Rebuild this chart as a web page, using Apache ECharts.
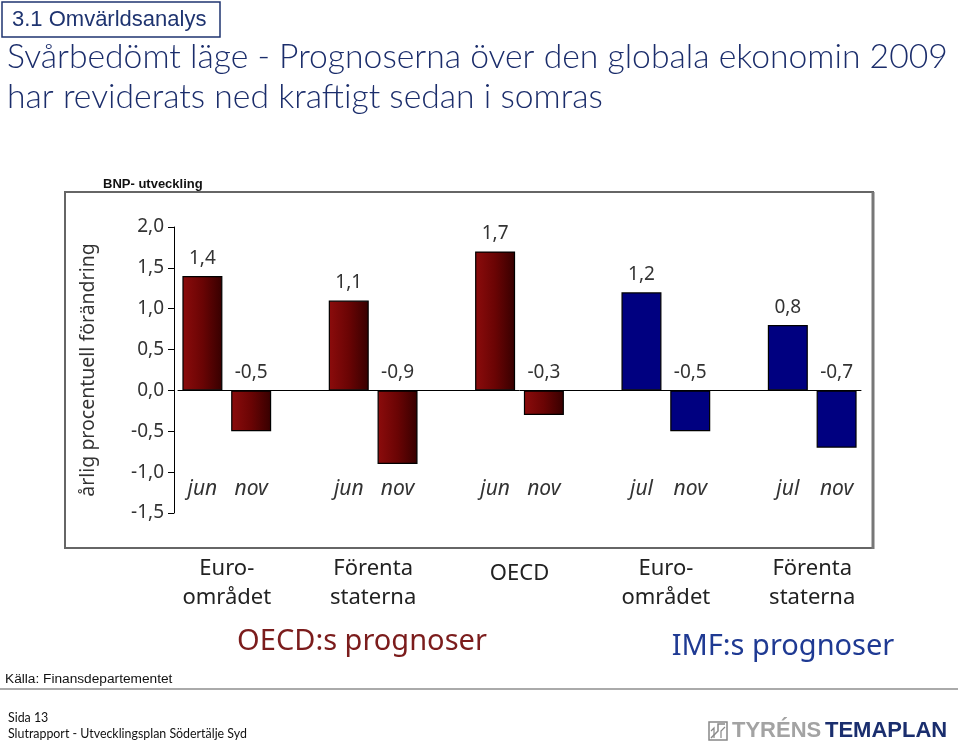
<!DOCTYPE html>
<html>
<head>
<meta charset="utf-8">
<script src="https://cdn.jsdelivr.net/npm/echarts@6/dist/echarts.min.js"></script>
<style>
html,body{margin:0;padding:0;background:#fff;}
#c{width:960px;height:742px;}
</style>
</head>
<body>
<div id="c"></div>
<script>
// ---- data ----
const categories = ['jun','nov','','jun','nov','','jun','nov','','jul','nov','','jul','nov'];
const oecdValues = [1.4,-0.5,null,1.1,-0.9,null,1.7,-0.3,null,null,null,null,null,null];
const imfValues  = [null,null,null,null,null,null,null,null,null,1.2,-0.5,null,0.8,-0.7];
const yMin = -1.5, yMax = 2.0, yStep = 0.5;
const groupNames = ['Euro-\nområdet','Förenta\nstaterna','OECD','Euro-\nområdet','Förenta\nstaterna'];
const groupSlots = [[0,1],[3,4],[6,7],[9,10],[12,13]];
const sourceNames = ['OECD:s prognoser','IMF:s prognoser'];
const headerText = '3.1 Omvärldsanalys';
const titleLines = ['Svårbedömt läge - Prognoserna över den globala ekonomin 2009','har reviderats ned kraftigt sedan i somras'];
const chartTitle = 'BNP- utveckling';
const yAxisName = 'årlig procentuell förändring';
const sourceNote = 'Källa: Finansdepartementet';
const footerLines = ['Sida 13','Slutrapport - Utvecklingsplan Södertälje Syd'];

const comma = v => v.toFixed(1).replace('.', ',');
const chartFont = 'Noto Sans';
const titleFont = 'Lato';

const chart = echarts.init(document.getElementById('c'));

const redGrad = new echarts.graphic.LinearGradient(0,0,1,0,[
  {offset:0,color:'#8c0c0c'},{offset:0.5,color:'#6a0404'},{offset:1,color:'#360000'}
]);

const labelCfg = {
  show:true, position:'top', distance:8, fontSize:19, color:'#333', fontFamily:chartFont,
  formatter: p => comma(p.value)
};

chart.setOption({
  animation:false,
  grid:{left:178, top:227, width:683, height:286},
  xAxis:[
    {type:'category', data:categories, axisLine:{onZero:true, lineStyle:{color:'#000',width:1}},
     axisTick:{show:false}, axisLabel:{show:false}},
    {type:'category', data:categories, position:'bottom', axisLine:{show:false, onZero:false},
     axisTick:{show:false},
     axisLabel:{margin:-34, fontSize:21, fontStyle:'italic', color:'#333', fontFamily:chartFont, interval:0}}
  ],
  yAxis:{type:'value', min:yMin, max:yMax, interval:yStep, offset:4,
    axisLine:{show:true, lineStyle:{color:'#000',width:1}},
    axisTick:{show:true, length:6, lineStyle:{color:'#000'}},
    splitLine:{show:false},
    axisLabel:{formatter:comma, fontSize:19, color:'#333', fontFamily:chartFont, margin:10},
    name:yAxisName, nameLocation:'middle', nameRotate:90, nameGap:76,
    nameTextStyle:{fontSize:19.5, color:'#333', fontFamily:chartFont}
  },
  series:[
    {type:'bar', data:oecdValues, barWidth:40, barGap:'-100%',
     itemStyle:{color:redGrad, borderColor:'#000', borderWidth:1.2}, label:labelCfg},
    {type:'bar', data:imfValues, barWidth:40, barGap:'-100%',
     itemStyle:{color:'#000080', borderColor:'#000', borderWidth:1.2}, label:labelCfg}
  ]
});

function build(){
  const g = [];
  // header box
  g.push({type:'rect', shape:{x:2,y:2,width:218,height:35}, style:{fill:'#fff',stroke:'#1f3470',lineWidth:1.5}});
  g.push({type:'text', x:12, y:20, style:{text:headerText, font:'22px "Liberation Sans"', fill:'#1f3470', verticalAlign:'middle'}});
  titleLines.forEach((t,i)=>{
    g.push({type:'text', x:7, y:57+i*40, style:{text:t, font:'300 33.7px "'+titleFont+'"', fill:'#1b2d6b', verticalAlign:'middle'}});
  });
  g.push({type:'text', x:103, y:184, style:{text:chartTitle, font:'bold 13px "Liberation Sans"', fill:'#111', verticalAlign:'middle'}});
  // chart frame
  g.push({type:'rect', z:-1, shape:{x:65,y:192,width:808,height:356}, style:{fill:'none',stroke:'#666',lineWidth:2}});
  g.push({type:'line', shape:{x1:873,y1:192,x2:873,y2:549}, style:{stroke:'#777',lineWidth:3}});
  // group labels
  groupNames.forEach((n,i)=>{
    const s = groupSlots[i];
    const x = (chart.convertToPixel({xAxisIndex:0}, s[0]) + chart.convertToPixel({xAxisIndex:0}, s[1]))/2;
    const single = n.indexOf('\n') < 0;
    g.push({type:'text', x:x, y:single ? 559 : 554, style:{text:n, font:'22px "'+chartFont+'"', fill:'#222', align:'center', verticalAlign:'top', lineHeight:29}});
  });
  g.push({type:'text', x:362, y:642, style:{text:sourceNames[0], font:'29px "'+chartFont+'"', fill:'#7b1c1c', align:'center', verticalAlign:'middle'}});
  g.push({type:'text', x:783, y:647, style:{text:sourceNames[1], font:'29px "'+chartFont+'"', fill:'#1f3a93', align:'center', verticalAlign:'middle'}});
  // footer
  g.push({type:'text', x:5, y:679, style:{text:sourceNote, font:'13.7px "Liberation Sans"', fill:'#111', verticalAlign:'middle'}});
  g.push({type:'line', shape:{x1:0,y1:689,x2:958,y2:689}, style:{stroke:'#aaa',lineWidth:2}});
  footerLines.forEach((t,i)=>{
    g.push({type:'text', x:8, y:718+i*16, style:{text:t, font:'12.4px "'+titleFont+'"', fill:'#111', verticalAlign:'middle'}});
  });
  // logo
  g.push({type:'rect', shape:{x:709,y:722,width:18,height:18}, style:{fill:'none',stroke:'#888',lineWidth:1.5}});
  g.push({type:'polyline', shape:{points:[[711,738],[718,731],[718,724],[725,724]]}, style:{fill:'none',stroke:'#888',lineWidth:1.5}});
  g.push({type:'polyline', shape:{points:[[711,731],[714,728],[714,738]]}, style:{fill:'none',stroke:'#888',lineWidth:1.2}});
  g.push({type:'polyline', shape:{points:[[721,738],[721,731],[725,727]]}, style:{fill:'none',stroke:'#888',lineWidth:1.2}});
  g.push({type:'text', x:732, y:731, style:{text:'TYRÉNS', font:'bold 22px "Liberation Sans"', fill:'#a3a3a3', verticalAlign:'middle'}});
  g.push({type:'text', x:825, y:731, style:{text:'TEMAPLAN', font:'bold 22px "Liberation Sans"', fill:'#1a2e6e', verticalAlign:'middle'}});
  chart.setOption({graphic:{elements:g}});
}
build();
</script>
</body>
</html>
